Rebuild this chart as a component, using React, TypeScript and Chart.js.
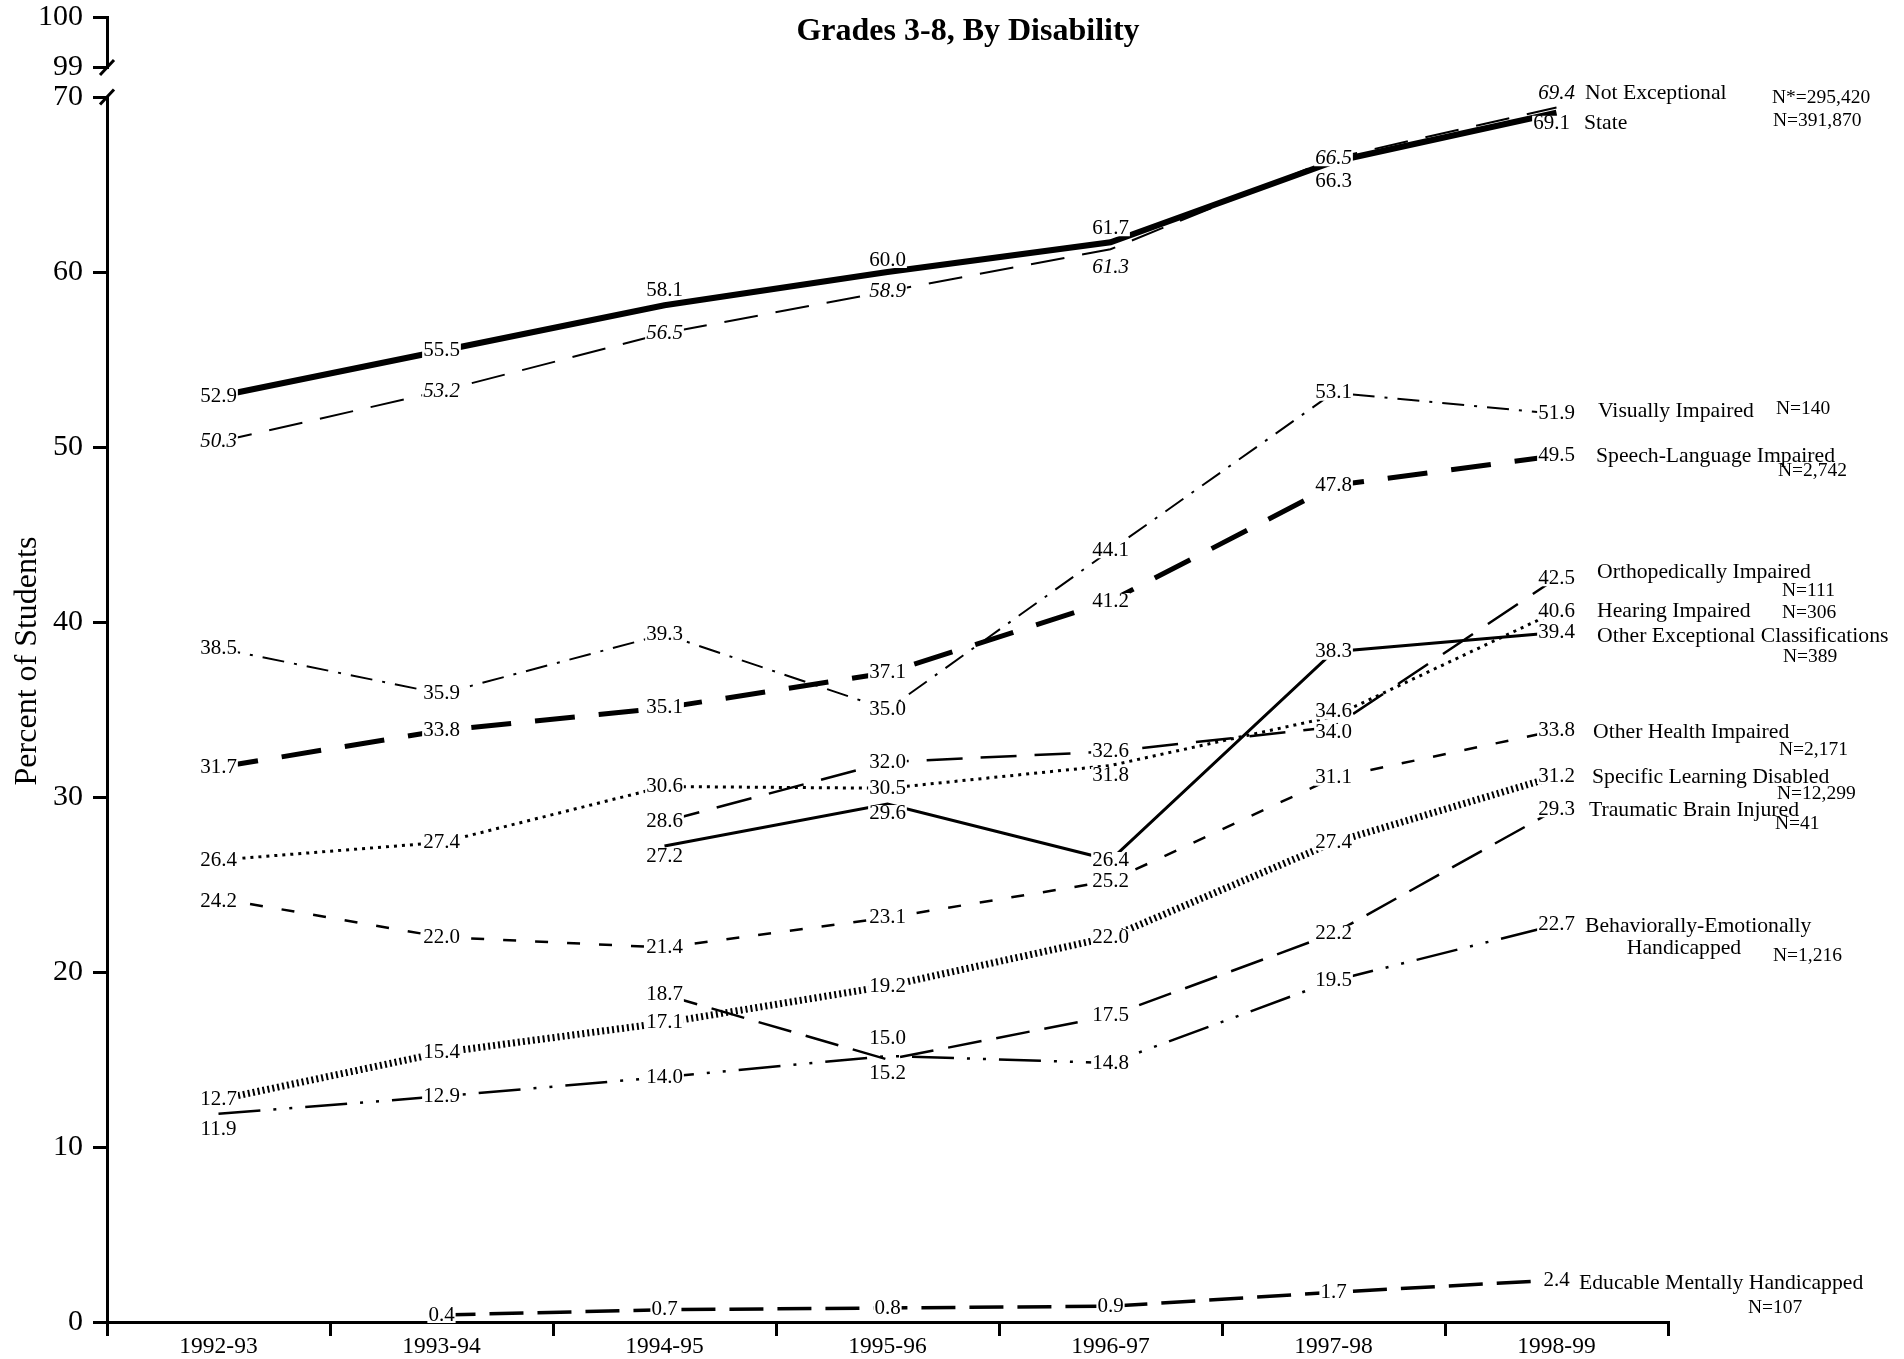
import React, { useEffect, useRef } from 'react';
import { Chart, registerables } from 'chart.js';

Chart.register(...registerables);

// ---------- data ----------
const schoolYears = ['1992-93', '1993-94', '1994-95', '1995-96', '1996-97', '1997-98', '1998-99'];
const lowerTicks = [0, 10, 20, 30, 40, 50, 60, 70];
const upperTicks = [99, 100];

const notExceptional = [50.3, 53.2, 56.5, 58.9, 61.3, 66.5, 69.4];
const stateAll = [52.9, 55.5, 58.1, 60.0, 61.7, 66.3, 69.1];
const visuallyImpaired = [38.5, 35.9, 39.3, 35.0, 44.1, 53.1, 51.9];
const speechLanguage = [31.7, 33.8, 35.1, 37.1, 41.2, 47.8, 49.5];
const orthopedically = [null, null, 28.6, 32.0, 32.6, 34.0, 42.5];
const hearingImpaired = [26.4, 27.4, 30.6, 30.5, 31.8, 34.6, 40.6];
const otherExceptional = [null, null, 27.2, 29.6, 26.4, 38.3, 39.4];
const otherHealth = [24.2, 22.0, 21.4, 23.1, 25.2, 31.1, 33.8];
const learningDisabled = [12.7, 15.4, 17.1, 19.2, 22.0, 27.4, 31.2];
const brainInjured = [null, null, 18.7, 15.0, 17.5, 22.2, 29.3];
const behavioral = [11.9, 12.9, 14.0, 15.2, 14.8, 19.5, 22.7];
const educableMH = [null, 0.4, 0.7, 0.8, 0.9, 1.7, 2.4];

const seriesValues: (number | null)[][] = [
  notExceptional, stateAll, visuallyImpaired, speechLanguage, orthopedically, hearingImpaired,
  otherExceptional, otherHealth, learningDisabled, brainInjured, behavioral, educableMH,
];

const seriesNames: string[][] = [
  ['Not Exceptional'],
  ['State'],
  ['Visually Impaired'],
  ['Speech-Language Impaired'],
  ['Orthopedically Impaired'],
  ['Hearing Impaired'],
  ['Other Exceptional Classifications'],
  ['Other Health Impaired'],
  ['Specific Learning Disabled'],
  ['Traumatic Brain Injured'],
  ['Behaviorally-Emotionally', 'Handicapped'],
  ['Educable Mentally Handicapped'],
];

const seriesCounts = [
  'N*=295,420', 'N=391,870', 'N=140', 'N=2,742', 'N=111', 'N=306',
  'N=389', 'N=2,171', 'N=12,299', 'N=41', 'N=1,216', 'N=107',
];

const chartTitle = 'Grades 3-8, By Disability';
const yAxisTitle = 'Percent of Students';

// ---------- styles / layout ----------
const FONT = '"Liberation Serif", "Times New Roman", serif';

const lineStyles = [
  { width: 2, dash: [34, 18], italic: true },
  { width: 6, dash: [] as number[], italic: false },
  { width: 2, dash: [22, 10, 3, 10], italic: false },
  { width: 5, dash: [40, 24], italic: false },
  { width: 2.5, dash: [36, 18], italic: false },
  { width: 3, dash: [3, 5], italic: false },
  { width: 3, dash: [] as number[], italic: false },
  { width: 2.5, dash: [13, 19], italic: false },
  { width: 7, dash: [2, 3], italic: false },
  { width: 2.5, dash: [34, 15], italic: false },
  { width: 2.5, dash: [42, 13, 3, 13, 3, 13], italic: false },
  { width: 3.5, dash: [34, 14], italic: false },
];

// value label nudges [dx, dy] keyed "series-point"
const labelShifts: Record<string, [number, number]> = {
  '0-4': [0, 18], '0-6': [0, -14],
  '1-2': [0, -15], '1-3': [0, -12], '1-4': [0, -14], '1-5': [0, 20], '1-6': [-5, 11],
  '4-5': [0, 5],
  '5-4': [0, 9.5], '5-5': [0, -5],
  '6-2': [0, 10], '6-3': [0, 9],
  '7-0': [0, 3],
  '9-3': [0, -21],
  '10-0': [0, 16], '10-3': [0, 17],
};

// name lines: [dx, dy, align] relative to last point; count: [dx, dy]
const nameLayout: { lines: [number, number, string][]; count: [number, number] }[] = [
  { lines: [[28.5, -14.5, 'left']], count: [215.5, -9.5] },
  { lines: [[27.5, 11, 'left']], count: [216.5, 8] },
  { lines: [[41.5, -2, 'left']], count: [219.5, -5] },
  { lines: [[39.5, 1, 'left']], count: [221.5, 15] },
  { lines: [[40.5, -6, 'left']], count: [225.5, 13] },
  { lines: [[40.5, 0, 'left']], count: [225.5, 1.5] },
  { lines: [[40.5, 3.5, 'left']], count: [226.5, 24.5] },
  { lines: [[36.5, 1.5, 'left']], count: [222.5, 19.5] },
  { lines: [[35.5, 1, 'left']], count: [220.5, 18] },
  { lines: [[32.5, 1, 'left']], count: [218.5, 15] },
  { lines: [[28.5, 2, 'left'], [127.5, 24, 'center']], count: [216.5, 31] },
  { lines: [[22.5, 3, 'left']], count: [191.5, 28] },
];

const decorPlugin = {
  id: 'decor',
  afterDatasetsDraw(chart: any) {
    const ctx = chart.ctx as CanvasRenderingContext2D;
    ctx.save();
    const items: { x: number; y: number; text: string; w: number; font: string }[] = [];
    seriesValues.forEach((vals, i) => {
      const meta = chart.getDatasetMeta(i);
      const font = `${lineStyles[i].italic ? 'italic ' : ''}21px ${FONT}`;
      ctx.font = font;
      vals.forEach((v, j) => {
        if (v == null) return;
        const p = meta.data[j];
        const s = labelShifts[`${i}-${j}`] || [0, 0];
        const text = v.toFixed(1);
        const w = ctx.measureText(text).width;
        items.push({ x: p.x + s[0], y: p.y + s[1], text, w, font });
      });
    });
    ctx.fillStyle = '#fff';
    items.forEach((it) => ctx.fillRect(it.x - it.w / 2 - 1, it.y - 8, it.w + 2, 16));
    ctx.fillStyle = '#000';
    ctx.textAlign = 'center';
    ctx.textBaseline = 'middle';
    items.forEach((it) => {
      ctx.font = it.font;
      ctx.fillText(it.text, it.x, it.y);
    });

    // series names and counts at right end
    seriesValues.forEach((vals, i) => {
      const meta = chart.getDatasetMeta(i);
      const last = meta.data[vals.length - 1];
      const lay = nameLayout[i];
      ctx.font = `21.7px ${FONT}`;
      seriesNames[i].forEach((line, k) => {
        const [dx, dy, align] = lay.lines[k];
        ctx.textAlign = align as CanvasTextAlign;
        ctx.fillText(line, last.x + dx, last.y + dy);
      });
      ctx.font = `19.5px ${FONT}`;
      ctx.textAlign = 'left';
      ctx.fillText(seriesCounts[i], last.x + lay.count[0], last.y + lay.count[1]);
    });
    ctx.restore();
  },
  afterDraw(chart: any) {
    const ctx = chart.ctx as CanvasRenderingContext2D;
    ctx.save();
    ctx.fillStyle = '#000';
    // title
    ctx.font = `bold 32px ${FONT}`;
    ctx.textAlign = 'center';
    ctx.textBaseline = 'alphabetic';
    ctx.fillText(chartTitle, 968, 40);
    // y axis title
    ctx.save();
    ctx.translate(36, 661);
    ctx.rotate(-Math.PI / 2);
    ctx.font = `32px ${FONT}`;
    ctx.fillText(yAxisTitle, 0, 0);
    ctx.restore();
    // axis break marks
    const x0 = chart.chartArea.left;
    const marks = [chart.scales.yTop.bottom, chart.scales.y.top];
    ctx.strokeStyle = '#000';
    ctx.lineWidth = 3;
    marks.forEach((my: number) => {
      ctx.beginPath();
      ctx.moveTo(x0 - 7, my + 7.5);
      ctx.lineTo(x0 + 7, my - 7.5);
      ctx.stroke();
    });
    ctx.restore();
  },
};

const fitLeft = (s: any) => {
  s.width = 107;
  s.paddingTop = 0;
  s.paddingBottom = 0;
};

export default function App() {
  const ref = useRef<HTMLCanvasElement>(null);
  useEffect(() => {
    const canvas = ref.current;
    if (!canvas) return;
    const chart = new Chart(canvas, {
      type: 'line',
      data: {
        labels: schoolYears,
        datasets: seriesValues.map((vals, i) => ({
          label: seriesNames[i].join(' '),
          data: vals,
          xAxisID: 'x',
          yAxisID: 'y',
          borderColor: '#000',
          backgroundColor: '#000',
          borderWidth: lineStyles[i].width,
          borderDash: lineStyles[i].dash,
          borderCapStyle: 'butt',
          borderJoinStyle: 'miter',
          pointRadius: 0,
          pointHoverRadius: 0,
          fill: false,
          tension: 0,
          spanGaps: false,
        })),
      },
      options: {
        responsive: false,
        animation: false,
        devicePixelRatio: 1,
        events: [],
        layout: { padding: { left: 0, right: 236, top: 17, bottom: 0 } },
        plugins: {
          legend: { display: false },
          tooltip: { enabled: false },
          title: { display: false },
        },
        scales: {
          x: {
            type: 'category',
            offset: true,
            grid: {
              offset: true,
              drawOnChartArea: false,
              drawTicks: true,
              tickLength: 14,
              lineWidth: 3,
              color: '#000',
            },
            border: { display: true, width: 3, color: '#000' },
            ticks: {
              color: '#000',
              font: { family: FONT, size: 23.5, lineHeight: 1 },
              padding: -1,
              maxRotation: 0,
              autoSkip: false,
            },
            afterFit: (s: any) => {
              s.height = 37;
              s.paddingLeft = 0;
              s.paddingRight = 0;
            },
          },
          y: {
            type: 'linear',
            position: 'left',
            stack: 'v',
            stackWeight: 1225,
            weight: 1,
            min: 0,
            max: 70,
            afterBuildTicks: (s: any) => {
              s.ticks = lowerTicks.map((v) => ({ value: v }));
            },
            grid: { drawOnChartArea: false, drawTicks: true, tickLength: 14, lineWidth: 3, color: '#000' },
            border: { display: true, width: 3, color: '#000' },
            ticks: { color: '#000', font: { family: FONT, size: 30, lineHeight: 1 }, padding: 10, autoSkip: false },
            afterFit: fitLeft,
          },
          yGap: {
            type: 'linear',
            position: 'left',
            stack: 'v',
            stackWeight: 29.5,
            weight: 2,
            min: 0,
            max: 1,
            grid: { display: false },
            border: { display: false },
            ticks: { display: false },
            afterFit: fitLeft,
          },
          yTop: {
            type: 'linear',
            position: 'left',
            stack: 'v',
            stackWeight: 50.5,
            weight: 3,
            min: 99,
            max: 100,
            afterBuildTicks: (s: any) => {
              s.ticks = upperTicks.map((v) => ({ value: v }));
            },
            grid: { drawOnChartArea: false, drawTicks: true, tickLength: 14, lineWidth: 3, color: '#000' },
            border: { display: true, width: 3, color: '#000' },
            ticks: { color: '#000', font: { family: FONT, size: 30, lineHeight: 1 }, padding: 10, autoSkip: false },
            afterFit: fitLeft,
          },
        },
      } as any,
      plugins: [decorPlugin],
    } as any);
    return () => chart.destroy();
  }, []);

  return (
    <div style={{ position: 'fixed', left: 0, top: 0, width: 1904, height: 1359, background: '#fff' }}>
      <canvas ref={ref} width={1904} height={1359} style={{ display: 'block', width: 1904, height: 1359 }} />
    </div>
  );
}
